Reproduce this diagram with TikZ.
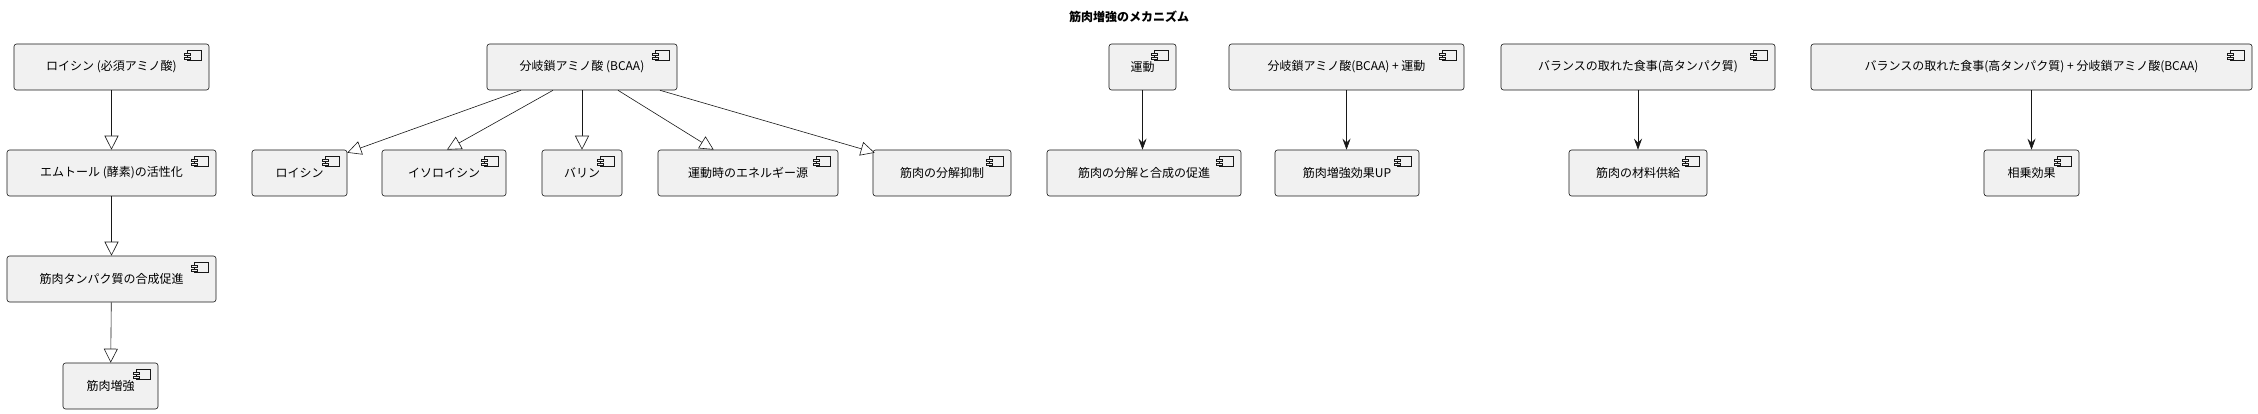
\documentclass[tikz,border=0pt]{standalone}
\usepackage{fontspec}
\setmainfont{Noto Sans CJK JP}
\usetikzlibrary{arrows.meta,calc}
\definecolor{boxfill}{HTML}{F1F1F1}
\definecolor{boxline}{HTML}{181818}
\tikzset{
    comp/.style={draw=boxline, fill=boxfill, line width=0.6pt, rounded corners=2.5pt,
        minimum height=46pt, inner sep=0pt, font=\fontsize{12}{14}\selectfont},
    extends/.style={draw=boxline, line width=0.6pt, -{Triangle[open,length=14pt,width=14pt,fill=white]}},
    leads/.style={draw=boxline, line width=0.6pt, -{Stealth[length=11pt,width=8pt,inset=4pt]}}
}
% component icon at the top right of a box
\newcommand{\compicon}[1]{%
    \draw[boxline, line width=0.5pt, fill=boxfill] ($(#1.north east)+(-22,7)$) rectangle ++(14,10);%
    \draw[boxline, line width=0.5pt, fill=boxfill] ($(#1.north east)+(-25,9.5)$) rectangle ++(6,2.5);%
    \draw[boxline, line width=0.5pt, fill=boxfill] ($(#1.north east)+(-25,13.5)$) rectangle ++(6,2.5);%
}
\begin{document}
\begin{tikzpicture}[x=1pt, y=-1pt]
    \useasboundingbox[fill=white] (0,0) rectangle (2258,414);

    % Title
    \node[font=\fontsize{12}{14}\selectfont\bfseries] (title) at (1129,17) {筋肉増強のメカニズム};

    % Left column
    \node[comp, minimum width=195pt] (leu) at (111.5,67) {ロイシン (必須アミノ酸)};
    \node[comp, minimum width=209pt] (mtor) at (111.5,173) {エムトール (酵素)の活性化};
    \node[comp, minimum width=209pt] (synth) at (111.5,279) {筋肉タンパク質の合成促進};
    \node[comp, minimum width=95pt] (gain) at (110.5,386) {筋肉増強};

    % BCAA group
    \node[comp, minimum width=190pt] (bcaa) at (582,67) {分岐鎖アミノ酸 (BCAA)};
    \node[comp, minimum width=95pt] (leucine) at (299.5,173) {ロイシン};
    \node[comp, minimum width=124pt] (isoleu) at (444,173) {イソロイシン};
    \node[comp, minimum width=80pt] (valine) at (582,173) {バリン};
    \node[comp, minimum width=180pt] (energy) at (748,173) {運動時のエネルギー源};
    \node[comp, minimum width=138pt] (antiCat) at (942,173) {筋肉の分解抑制};

    % Right groups
    \node[comp, minimum width=67pt] (exercise) at (1142.5,67) {運動};
    \node[comp, minimum width=194pt] (turnover) at (1144,173) {筋肉の分解と合成の促進};
    \node[comp, minimum width=235pt] (bcaaEx) at (1346.5,67) {分岐鎖アミノ酸(BCAA) + 運動};
    \node[comp, minimum width=144pt] (boost) at (1347,173) {筋肉増強効果UP};
    \node[comp, minimum width=274pt] (diet) at (1638,67) {バランスの取れた食事(高タンパク質)};
    \node[comp, minimum width=138pt] (material) at (1638,173) {筋肉の材料供給};
    \node[comp, minimum width=441pt] (dietBcaa) at (2031.5,67) {バランスの取れた食事(高タンパク質) + 分岐鎖アミノ酸(BCAA)};
    \node[comp, minimum width=95pt] (synergy) at (2031.5,173) {相乗効果};

    \foreach \n in {leu,mtor,synth,gain,bcaa,leucine,isoleu,valine,energy,antiCat,exercise,turnover,bcaaEx,boost,diet,material,dietBcaa,synergy}
        {\compicon{\n}}

    % Edges
    \draw[extends] (leu) -- (mtor);
    \draw[extends] (mtor) -- (synth);
    \draw[extends] (synth) -- (gain);
    \draw[extends] ($(bcaa.south)+(-61,0)$) -- ($(leucine.north east)+(0,3)$);
    \draw[extends] ($(bcaa.south)+(-29,0)$) -- ($(isoleu.north)+(3,0)$);
    \draw[extends] (bcaa.south) -- (valine.north);
    \draw[extends] ($(bcaa.south)+(36,0)$) -- ($(energy.north west)+(56,0)$);
    \draw[extends] ($(bcaa.south)+(78,0)$) -- ($(antiCat.north west)+(2,3)$);
    \draw[leads] (exercise) -- (exercise |- turnover.north);
    \draw[leads] (bcaaEx) -- (bcaaEx |- boost.north);
    \draw[leads] (diet) -- (material);
    \draw[leads] (dietBcaa) -- (synergy);
\end{tikzpicture}
\end{document}
